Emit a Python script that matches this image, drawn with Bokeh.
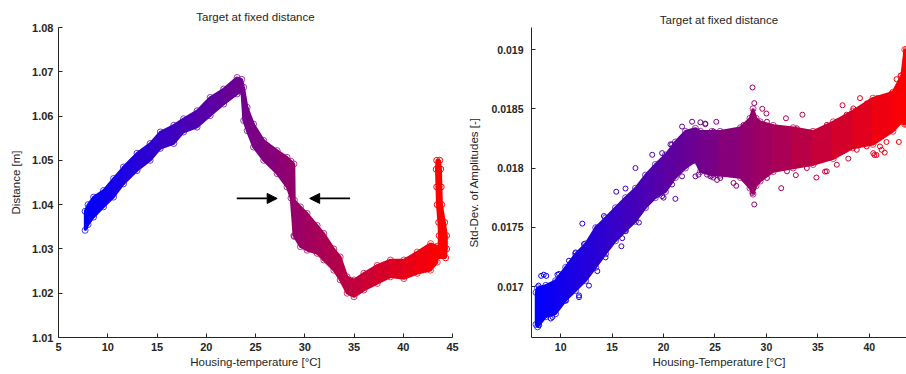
import numpy as np
from bokeh.plotting import figure
from bokeh.layouts import row
from bokeh.models import Range1d, FixedTicker, Arrow, NormalHead
from bokeh.embed import file_html
from bokeh.resources import INLINE

# ---------------- data ----------------
title_text = "Target at fixed distance"

# left: distance band (lower / upper envelope of the point cloud)
left_x = [7.7, 8.0, 8.56, 9.57, 10.59, 11.6, 12.97, 14.3, 15.33, 16.7, 17.7, 19.07,
          20.4, 21.77, 23.13, 23.6, 23.8, 24.15, 24.8, 25.83, 27.2, 28.2, 28.6, 28.9,
          28.95, 29.56, 30.24, 31.26, 31.93, 32.95, 33.6, 34.3, 35.0, 36.0, 37.36,
          38.7, 40.06, 41.42, 42.77, 43.45]
left_lo = [1.0342, 1.0355, 1.0372, 1.0395, 1.0417, 1.0447, 1.0477, 1.0500, 1.0527,
           1.0538, 1.0564, 1.0575, 1.0601, 1.0627, 1.0650, 1.0655, 1.0590, 1.0567,
           1.0530, 1.0500, 1.0470, 1.0440, 1.0415, 1.0330, 1.0328, 1.0305, 1.0297,
           1.0290, 1.0275, 1.0252, 1.0230, 1.0200, 1.0192, 1.0207, 1.0222, 1.0237,
           1.0233, 1.0245, 1.0252, 1.0270]
left_hi = [1.0385, 1.0400, 1.0417, 1.0432, 1.0459, 1.0485, 1.0516, 1.0538, 1.0564,
           1.0579, 1.0594, 1.0612, 1.0642, 1.0661, 1.0687, 1.0683, 1.0665, 1.0620,
           1.0582, 1.0545, 1.0522, 1.0507, 1.0498, 1.0492, 1.0410, 1.0395, 1.0380,
           1.0353, 1.0335, 1.0300, 1.0282, 1.0237, 1.0230, 1.0245, 1.0263, 1.0275,
           1.0275, 1.0293, 1.0312, 1.0306]
# left: final near-vertical part (x extent per distance level)
tail_y = [1.0280, 1.0300, 1.0330, 1.0360, 1.0400, 1.0440, 1.0480, 1.0500]
tail_xl = [43.0, 43.6, 43.65, 43.6, 43.45, 43.4, 43.35, 43.4]
tail_xr = [44.3, 44.4, 44.4, 44.2, 43.9, 43.85, 43.8, 43.7]

# arrows marking the jump
arrow_x_start = [23.1, 34.6]
arrow_x_end = [27.2, 30.5]
arrow_y = [1.0414, 1.0414]

left_xticks = [5, 10, 15, 20, 25, 30, 35, 40, 45]
left_yticks = [1.01, 1.02, 1.03, 1.04, 1.05, 1.06, 1.07, 1.08]
left_ylabels = ["1.01", "1.02", "1.03", "1.04", "1.05", "1.06", "1.07", "1.08"]

# right: std-dev of amplitudes band
right_x = [7.6, 7.75, 8.55, 9.5, 10.48, 11.45, 12.42, 13.4, 14.36, 15.33, 16.3, 17.27,
           18.24, 19.2, 20.18, 21.15, 22.12, 23.1, 23.58, 24.7, 25.5, 27.46, 28.4,
           28.7, 29.0, 29.4, 30.66, 32.6, 34.54, 36.5, 38.4, 40.36, 42.3, 43.14,
           43.45, 43.6]
right_lo = [0.01668, 0.01666, 0.016745, 0.01677, 0.016883, 0.016966, 0.01705,
            0.017162, 0.017276, 0.017386, 0.01747, 0.01755, 0.017665, 0.01775,
            0.0178, 0.01792, 0.0180, 0.01806, 0.01797, 0.01794, 0.01794, 0.01792,
            0.01783, 0.01778, 0.01785, 0.01789, 0.01797, 0.0180, 0.01803, 0.01808,
            0.01817, 0.0182, 0.01831, 0.01839, 0.01837, 0.01837]
right_hi = [0.01695, 0.01699, 0.01701, 0.01705, 0.017162, 0.017276, 0.01736,
            0.017497, 0.01758, 0.017665, 0.01775, 0.01783, 0.01794, 0.01803,
            0.01811, 0.01822, 0.01831, 0.018335, 0.01831, 0.01831, 0.01831, 0.01834,
            0.01842, 0.0185, 0.01842, 0.01839, 0.01836, 0.01834, 0.01831, 0.01839,
            0.01848, 0.01859, 0.01864, 0.01878, 0.0190, 0.0190]
# right: scattered single points around / outside the dense band
out_x = [12.1, 15.9, 9.68, 8.1, 8.35, 8.6, 21.15, 17.27, 17.6, 21.8, 24.06, 20.67,
         13.56, 11.78, 9.03, 20.0, 24.84, 23.1, 28.65, 28.82, 29.6, 30.0, 33.5, 31.9,
         25.13, 24.06, 37.4, 37.8, 39.1, 40.78, 43.04, 42.65, 28.82, 31.44, 28.65,
         34.86, 32.86, 27.07, 25.2, 40.7, 42.88, 37.96, 35.7, 34.9, 41.67, 41.5, 40.5,
         7.84, 9.84, 10.8, 11.45, 12.26, 13.56, 14.2, 15.4, 16.3, 18.9, 19.86, 20.83,
         22.77, 23.58, 10.48, 11.78, 12.75, 14.36, 15.98, 16.3, 19.86, 20.83, 21.8,
         23.4, 24.55, 7.9, 9.2,
         24.23, 25.52, 26.8, 27.78, 30.05, 31.0, 32.0, 33.93, 35.87, 36.84, 38.78,
         39.75, 41.2, 24.87, 26.8, 27.78, 30.05, 31.34, 32.96, 35.87, 36.84, 38.45,
         39.75, 41.69, 42.17, 40.39, 41.04]
out_y = [0.017531, 0.01734, 0.0171, 0.01709, 0.01710, 0.01709, 0.01774, 0.0180,
         0.01754, 0.01835, 0.018375, 0.0182, 0.01713, 0.01691, 0.01673, 0.01775,
         0.01792, 0.01793, 0.01868, 0.018548, 0.0185, 0.01846, 0.01845, 0.01842,
         0.01839, 0.01837, 0.01853, 0.01845, 0.01859, 0.01859, 0.01878, 0.01875,
         0.017693, 0.01783, 0.01779, 0.01792, 0.01794, 0.01785, 0.0179, 0.01811,
         0.01822, 0.01808, 0.01797, 0.01829, 0.01822, 0.01813, 0.01811,
         0.017008, 0.017106, 0.017218, 0.017288, 0.017358, 0.017497, 0.017595,
         0.0178, 0.017827, 0.018112, 0.018126, 0.0182, 0.018391, 0.018386,
         0.016883, 0.016925, 0.017008, 0.017246, 0.017408, 0.01747, 0.017763,
         0.017861, 0.01793, 0.017944, 0.01793, 0.016673, 0.016743,
         0.017944, 0.017916, 0.017874, 0.017916, 0.017916, 0.018, 0.017972, 0.018,
         0.017972, 0.018028, 0.018154, 0.018182, 0.018154, 0.018308, 0.018308,
         0.018364, 0.018391, 0.018335, 0.018335, 0.018364, 0.018391, 0.018503,
         0.018545, 0.018587, 0.018629, 0.018126, 0.018182]

right_xticks = [10, 15, 20, 25, 30, 35, 40]
right_yticks = [0.017, 0.0175, 0.018, 0.0185, 0.019]
right_ylabels = ["0.017", "0.0175", "0.018", "0.0185", "0.019"]

# ---------------- helpers ----------------
FONT = "Liberation Sans"
INK = "#262626"


def grad(vals, v0, v1):
    t = np.clip((np.asarray(vals, dtype=float) - v0) / (v1 - v0), 0, 1)
    return ["#%02x%02x%02x" % (int(round(255 * a)), 0, int(round(255 * (1 - a)))) for a in t]


def band(p, x, lo, hi, x0, x1):
    xs, ys, mids = [], [], []
    for i in range(len(x) - 1):
        xs.append([x[i], x[i + 1], x[i + 1], x[i]])
        ys.append([lo[i], lo[i + 1], hi[i + 1], hi[i]])
        mids.append(0.5 * (x[i] + x[i + 1]))
    cols = grad(mids, x0, x1)
    p.patches(xs, ys, fill_color=cols, line_color=cols, line_width=2.5)
    ex = list(x) + list(x)
    ey = list(lo) + list(hi)
    p.scatter(ex, ey, marker="circle", size=6, fill_color=None,
              line_color=grad(ex, x0, x1), line_width=1, line_alpha=0.75)


def style(p, xlabel, ylabel, tick_size, ytick_standoff, ylabel_standoff, title_standoff):
    p.title.text = title_text
    p.title.align = "center"
    p.title.text_font = FONT
    p.title.text_font_size = "11.5px"
    p.title.text_font_style = "normal"
    p.title.text_color = INK
    p.title.text_line_height = 0.9
    p.title.standoff = title_standoff
    p.outline_line_color = None
    p.grid.visible = False
    p.background_fill_color = "white"
    p.border_fill_color = "white"
    for ax in (p.xaxis[0], p.yaxis[0]):
        ax.major_tick_in = 4
        ax.major_tick_out = 0
        ax.minor_tick_line_color = None
        ax.axis_line_color = INK
        ax.major_tick_line_color = INK
        ax.major_label_text_font = FONT
        ax.major_label_text_font_size = tick_size
        ax.major_label_text_font_style = "bold"
        ax.major_label_text_color = INK
        ax.axis_label_text_font = FONT
        ax.axis_label_text_font_size = "11.5px"
        ax.axis_label_text_font_style = "normal"
        ax.axis_label_text_color = INK
    p.xaxis[0].axis_label = xlabel
    p.yaxis[0].axis_label = ylabel
    p.xaxis[0].major_label_standoff = 5
    p.xaxis[0].axis_label_standoff = 2
    p.yaxis[0].major_label_standoff = ytick_standoff
    p.yaxis[0].axis_label_standoff = ylabel_standoff


# ---------------- left figure ----------------
pl = figure(width=460, height=374, output_backend="svg", toolbar_location=None,
            x_range=Range1d(5, 45), y_range=Range1d(1.01, 1.08),
            min_border_left=58, min_border_right=8, min_border_top=27, min_border_bottom=37)
band(pl, left_x, left_lo, left_hi, 7.7, 44.0)
txs, tys = [], []
for i in range(len(tail_y) - 1):
    txs.append([tail_xl[i], tail_xr[i], tail_xr[i + 1], tail_xl[i + 1]])
    tys.append([tail_y[i], tail_y[i], tail_y[i + 1], tail_y[i + 1]])
tcol = grad([43.9] * len(txs), 7.7, 44.0)
pl.patches(txs, tys, fill_color=tcol, line_color=tcol, line_width=2.5)
pl.scatter(tail_xl + tail_xr, tail_y + tail_y, marker="circle", size=6, fill_color=None,
           line_color="#ff0000", line_width=1)
for xs0, xe0, yy in zip(arrow_x_start, arrow_x_end, arrow_y):
    pl.add_layout(Arrow(end=NormalHead(size=10, fill_color="black", line_color="black"),
                        x_start=xs0, y_start=yy, x_end=xe0, y_end=yy,
                        line_color="black", line_width=1.8))
pl.xaxis[0].ticker = FixedTicker(ticks=left_xticks)
pl.yaxis[0].ticker = FixedTicker(ticks=left_yticks)
pl.yaxis[0].major_label_overrides = {t: l for t, l in zip(left_yticks, left_ylabels)}
style(pl, "Housing-temperature [°C]", "Distance [m]", "11px", 5, 7, 10)

# ---------------- right figure ----------------
pr = figure(width=446, height=374, output_backend="svg", toolbar_location=None,
            x_range=Range1d(7.16, 43.62), y_range=Range1d(0.01657, 0.019186),
            min_border_left=71, min_border_right=0, min_border_top=27, min_border_bottom=37)
band(pr, right_x, right_lo, right_hi, 7.6, 43.6)
pr.scatter(out_x, out_y, marker="circle", size=5, fill_color=None,
           line_color=grad(out_x, 7.6, 43.6), line_width=1)
pr.xaxis[0].ticker = FixedTicker(ticks=right_xticks)
pr.yaxis[0].ticker = FixedTicker(ticks=right_yticks)
pr.yaxis[0].major_label_overrides = {t: l for t, l in zip(right_yticks, right_ylabels)}
style(pr, "Housing-Temperature [°C]", "Std-Dev. of Amplitudes [-]", "10.5px", 8, 8, 3)

layout = row(pl, pr)
open("out.html", "w").write(file_html(layout, INLINE))
